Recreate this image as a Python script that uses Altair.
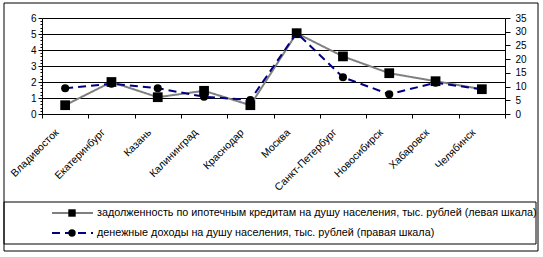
import altair as alt
import pandas as pd

cities = ["Владивосток", "Екатеринбург", "Казань", "Калининград", "Краснодар",
          "Москва", "Санкт-Петербург", "Новосибирск", "Хабаровск", "Челябинск"]
mortgage = [0.55, 2.0, 1.05, 1.45, 0.55, 5.05, 3.6, 2.55, 2.05, 1.55]
income = [9.4, 11.0, 9.4, 6.3, 5.1, 29.6, 13.4, 7.2, 11.4, 9.0]
series_names = [
    "задолженность по ипотечным кредитам на душу населения, тыс. рублей (левая шкала)",
    "денежные доходы на душу населения, тыс. рублей (правая шкала)",
]
left_ticks = [0, 1, 2, 3, 4, 5, 6]
left_minor_ticks = [0.2, 0.4, 0.6, 0.8, 1.2, 1.4, 1.6, 1.8, 2.2, 2.4, 2.6, 2.8,
                    3.2, 3.4, 3.6, 3.8, 4.2, 4.4, 4.6, 4.8, 5.2, 5.4, 5.6, 5.8]
right_ticks = [0, 5, 10, 15, 20, 25, 30, 35]

FONT = "Liberation Sans"

df = pd.DataFrame({
    "city": cities * 2,
    "series": [series_names[0]] * len(cities) + [series_names[1]] * len(cities),
    "value": mortgage + income,
})
legend_df = pd.DataFrame({"series": series_names, "row": [0, 1]})

x_enc = alt.X(
    "city:N", sort=cities,
    scale=alt.Scale(paddingInner=0, paddingOuter=0),
    axis=alt.Axis(title=None, labelAngle=-45, tickBand="extent", tickSize=4,
                  tickColor="black", domainColor="black", labelColor="black",
                  labelFont=FONT, labelFontSize=10.5, labelPadding=9, labelOffset=-12,
                  grid=False),
)

color_enc = alt.Color("series:N", scale=alt.Scale(domain=series_names, range=["#808080", "#000080"]),
                      legend=None)
dash_enc = alt.StrokeDash("series:N", scale=alt.Scale(domain=series_names, range=[[1, 0], [8, 5]]),
                          legend=None)
shape_enc = alt.Shape("series:N", scale=alt.Scale(domain=series_names, range=["square", "circle"]),
                      legend=None)

base = alt.Chart(df)

y_left = alt.Y("value:Q", scale=alt.Scale(domain=[0, 6], nice=False, zero=True),
               axis=alt.Axis(title=None, orient="left", values=left_ticks, grid=True,
                             gridColor="black", gridOpacity=1, tickSize=4, tickColor="black",
                             domainColor="black", labelColor="black", labelFont=FONT,
                             labelFontSize=10, labelPadding=2))
y_left_minor = alt.Y("value:Q", scale=alt.Scale(domain=[0, 6], nice=False, zero=True),
                     axis=alt.Axis(title=None, orient="left", values=left_minor_ticks, grid=False,
                                   labels=False, domain=False, tickSize=2, tickColor="black"))
y_right = alt.Y("value:Q", scale=alt.Scale(domain=[0, 35], nice=False, zero=True),
                axis=alt.Axis(title=None, orient="right", values=right_ticks, grid=False,
                              tickSize=5, tickColor="black", domainColor="black",
                              labelColor="black", labelFont=FONT, labelFontSize=10, labelPadding=5))

f_left = alt.datum.series == series_names[0]
f_right = alt.datum.series == series_names[1]

left_layer = alt.layer(
    base.transform_filter(f_left).mark_line(strokeWidth=2).encode(
        x=x_enc, y=y_left, color=color_enc, strokeDash=dash_enc),
    base.transform_filter(f_left).mark_point(filled=True, opacity=1, size=95, color="black").encode(
        x=x_enc, y=y_left, shape=shape_enc),
)
minor_layer = base.transform_filter(f_left).mark_point(opacity=0).encode(x=x_enc, y=y_left_minor)
right_layer = alt.layer(
    base.transform_filter(f_right).mark_line(strokeWidth=2).encode(
        x=x_enc, y=y_right, color=color_enc, strokeDash=dash_enc),
    base.transform_filter(f_right).mark_point(filled=True, opacity=1, size=65, color="black").encode(
        x=x_enc, y=y_right, shape=shape_enc),
)

# legend (drawn below the plot, inside its own box)
leg_y = alt.Y("row:Q", scale=alt.Scale(domain=[0, 1], range=[195, 215]), axis=None)
leg = alt.Chart(legend_df)
legend_layer = alt.layer(
    leg.mark_rule(strokeWidth=2).encode(
        x=alt.value(10), x2=alt.value(51), y=leg_y, color=color_enc, strokeDash=dash_enc),
    leg.mark_point(filled=True, opacity=1, size=55, color="black").encode(
        x=alt.value(30), y=leg_y, shape=shape_enc),
    leg.mark_text(align="left", baseline="middle", font=FONT, fontSize=10.8, color="black").encode(
        x=alt.value(55), y=leg_y, text="series:N"),
)

frame_df = pd.DataFrame({"k": [0]})
frame = alt.layer(
    alt.Chart(frame_df).mark_rect(fill=None, stroke="black", strokeWidth=1).encode(
        x=alt.value(-38), x2=alt.value(496), y=alt.value(-15), y2=alt.value(233)),
    alt.Chart(frame_df).mark_rect(fill=None, stroke="black", strokeWidth=1).encode(
        x=alt.value(-38), x2=alt.value(494), y=alt.value(184), y2=alt.value(226)),
)

chart = alt.layer(left_layer, minor_layer, right_layer, legend_layer, frame).resolve_scale(
    y="independent"
).properties(
    width=463, height=96,
    autosize=alt.AutoSizeParams(type="none"),
    padding={"left": 42, "top": 18, "right": 38, "bottom": 143},
    background="white",
).configure_view(stroke=None)

chart.save("out.html", embed_options={"renderer": "svg", "actions": False})
